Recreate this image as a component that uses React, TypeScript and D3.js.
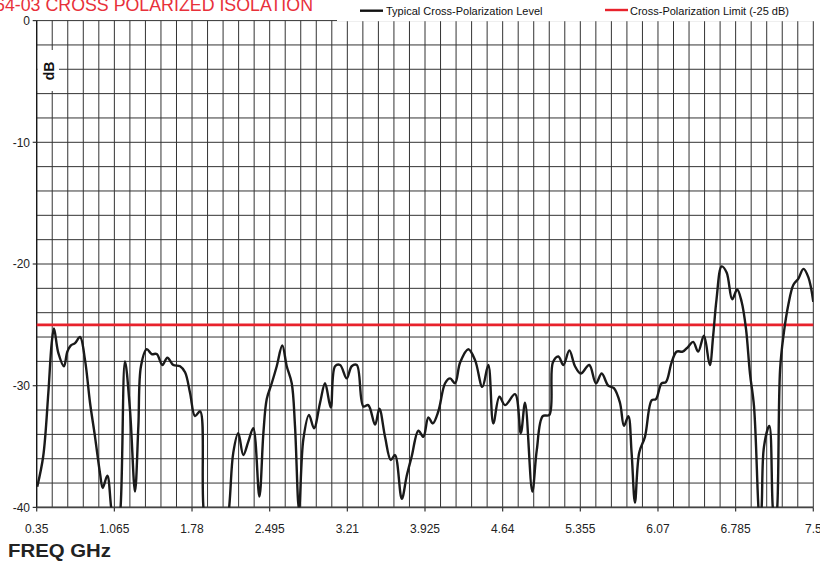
import React from "react";
import * as d3 from "d3";

const freqGHz: number[] = [
  0.355, 0.41, 0.457, 0.488, 0.509, 0.549, 0.601, 0.632, 0.663, 0.703, 0.749, 0.795, 0.841, 0.887, 0.933, 0.958,
  1.0, 1.034, 1.08, 1.123, 1.163, 1.209, 1.255, 1.286, 1.31, 1.363, 1.409, 1.455, 1.507, 1.553, 1.608, 1.67,
  1.716, 1.762, 1.808, 1.854, 1.884, 1.95, 2.05, 2.123, 2.16, 2.206, 2.252, 2.298, 2.344, 2.4, 2.437, 2.468,
  2.514, 2.56, 2.611, 2.652, 2.698, 2.728, 2.765, 2.805, 2.857, 2.903, 2.959, 3.005, 3.057, 3.097, 3.143, 3.204,
  3.25, 3.297, 3.357, 3.403, 3.465, 3.505, 3.557, 3.61, 3.649, 3.711, 3.757, 3.803, 3.864, 3.91, 3.956, 3.996,
  4.048, 4.11, 4.156, 4.202, 4.248, 4.324, 4.386, 4.453, 4.508, 4.554, 4.61, 4.662, 4.754, 4.807, 4.846, 4.913,
  4.954, 5.009, 5.07, 5.102, 5.153, 5.199, 5.254, 5.306, 5.359, 5.437, 5.499, 5.552, 5.612, 5.664, 5.72, 5.757,
  5.797, 5.827, 5.858, 5.897, 5.95, 6.012, 6.051, 6.103, 6.143, 6.195, 6.242, 6.297, 6.348, 6.394, 6.44, 6.493,
  6.547, 6.578, 6.609, 6.656, 6.702, 6.753, 6.799, 6.84, 6.88, 6.917, 6.954, 6.994, 7.01, 7.025, 7.046, 7.095,
  7.126, 7.148, 7.169, 7.194, 7.225, 7.271, 7.317, 7.363, 7.409, 7.455, 7.5,
];

const levelDb: number[] = [
  -38.3, -35.8, -30.6, -26.5, -25.3, -27.3, -28.4, -27.2, -26.7, -26.5, -26.0, -27.9, -31.4, -34.2, -37.2, -38.4,
  -37.4, -39.9, -44, -39.9, -28.0, -32.0, -38.7, -33.3, -28.4, -27.0, -27.4, -27.4, -28.3, -27.7, -28.3, -28.4,
  -28.9, -30.6, -32.5, -32.1, -39.9, -46, -46, -39.9, -35.5, -33.9, -35.7, -34.6, -33.5, -39.1, -33.9, -31.1,
  -29.8, -28.4, -26.7, -28.4, -29.8, -33.3, -40.2, -34.4, -32.4, -33.5, -31.4, -29.8, -31.8, -28.4, -28.3, -29.4,
  -28.4, -28.3, -31.7, -31.6, -33.2, -31.9, -34.2, -36.1, -35.7, -39.3, -37.4, -35.8, -33.7, -34.2, -32.6, -33.1,
  -32.1, -29.8, -29.4, -29.8, -28.1, -27.0, -27.9, -30.1, -28.3, -33.1, -30.9, -31.6, -30.7, -33.9, -31.4, -38.7,
  -35.3, -32.5, -32.4, -28.1, -27.6, -28.3, -27.1, -28.4, -29.0, -28.3, -29.8, -29.0, -30.0, -30.2, -31.4, -33.3,
  -32.5, -35.5, -39.6, -35.5, -34.2, -31.2, -31.1, -29.8, -29.7, -28.1, -27.2, -27.2, -26.8, -26.4, -27.2, -25.9,
  -28.3, -25.9, -22.9, -20.2, -20.7, -22.9, -22.1, -23.1, -25.3, -29.0, -31.7, -39.9, -42, -39.9, -35.0, -33.3,
  -39.9, -42, -39.9, -28.7, -25.9, -23.3, -21.7, -21.2, -20.4, -21.1, -23.1,
];

const xTickLabels: string[] = ["0.35", "1.065", "1.78", "2.495", "3.21", "3.925", "4.64", "5.355", "6.07", "6.785", "7.5"];
const yTickValues: number[] = [0, -10, -20, -30, -40];
const limitDb = -25;
const titleText = "64-03 CROSS POLARIZED ISOLATION";
const legendLabels: string[] = ["Typical Cross-Polarization Level", "Cross-Polarization Limit (-25 dB)"];

const W = 820;
const H = 562;
const X0 = 36.7;
const X1 = 813.3;
const YT = 20.6;
const YB = 507.4;

export default function App() {
  const x = d3.scaleLinear().domain([0.35, 7.5]).range([X0, X1]);
  const y = d3.scaleLinear().domain([0, -40]).range([YT, YB]);

  const vGrid = d3.range(51).map((i) => 0.35 + (i * 7.15) / 50);
  const hGrid = d3.range(21).map((i) => -i * 2);

  const pts = freqGHz.map((f, i) => [f, levelDb[i]] as [number, number]);
  const line = d3
    .line<[number, number]>()
    .x((d) => x(d[0]))
    .y((d) => y(d[1]))
    .curve(d3.curveCatmullRom.alpha(0.5));

  const font = "Arial, 'Liberation Sans', Helvetica, sans-serif";

  return (
    <svg
      width={W}
      height={H}
      style={{ position: "absolute", left: 0, top: 0, background: "#fff" }}
      fontFamily={font}
    >
      <defs>
        <clipPath id="plotClip">
          <rect x={X0} y={YT} width={X1 - X0} height={YB - YT} />
        </clipPath>
      </defs>
      <rect x={0} y={0} width={W} height={H} fill="#fff" />

      {/* grid */}
      {hGrid.map((v) => (
        <line key={"h" + v} x1={X0} x2={X1} y1={y(v)} y2={y(v)} stroke="#333" strokeWidth={1} />
      ))}
      {vGrid.map((f, i) => (
        <line key={"v" + i} x1={x(f)} x2={x(f)} y1={YT} y2={YB} stroke="#333" strokeWidth={1} />
      ))}

      {/* legend backdrop covering top border */}
      <rect x={337} y={0} width={W - 337} height={YT + 0.6} fill="#fff" />

      {/* dB label box */}
      <rect x={X0 + 0.8} y={50} width={59 - X0 - 0.8} height={41} fill="#fff" />
      <text
        transform="translate(53.5,71) rotate(-90)"
        textAnchor="middle"
        fontSize={14}
        fontWeight="bold"
        fill="#111"
      >
        dB
      </text>

      {/* axes */}
      <line x1={X0} x2={X0} y1={YT} y2={YB} stroke="#111" strokeWidth={1.2} />
      <line x1={X0} x2={X1} y1={YB} y2={YB} stroke="#444" strokeWidth={1.8} />
      {xTickLabels.map((t) => (
        <g key={"xt" + t}>
          <line x1={x(+t)} x2={x(+t)} y1={YB} y2={YB + 4} stroke="#333" strokeWidth={1.2} />
          <text x={x(+t)} y={533} textAnchor="middle" fontSize={12} fill="#222">
            {t}
          </text>
        </g>
      ))}
      {yTickValues.map((v) => (
        <g key={"yt" + v}>
          <line x1={X0 - 4} x2={X0} y1={y(v)} y2={y(v)} stroke="#333" strokeWidth={1.2} />
          <text x={30} y={y(v)} dy="0.36em" textAnchor="end" fontSize={12} fill="#222">
            {v}
          </text>
        </g>
      ))}

      {/* limit line */}
      <line x1={X0} x2={X1} y1={y(limitDb)} y2={y(limitDb)} stroke="#e8222c" strokeWidth={2.6} />

      {/* data curve */}
      <g clipPath="url(#plotClip)">
        <path d={line(pts) || ""} fill="none" stroke="#1a1a1a" strokeWidth={2.4} strokeLinejoin="round" />
      </g>

      {/* title */}
      <text x={-5} y={11} fontSize={18} fill="#e8303a" textLength={318} lengthAdjust="spacingAndGlyphs">
        {titleText}
      </text>

      {/* legend */}
      <line x1={360} x2={383} y1={10.7} y2={10.7} stroke="#111" strokeWidth={2.4} />
      <text x={386} y={15} fontSize={11} fill="#111">
        {legendLabels[0]}
      </text>
      <line x1={605} x2={628} y1={10} y2={10} stroke="#e8222c" strokeWidth={2.4} />
      <text x={630} y={15} fontSize={11} fill="#111">
        {legendLabels[1]}
      </text>

      {/* x axis title */}
      <text x={8} y={556.7} fontSize={19} fontWeight="bold" fill="#222" textLength={103} lengthAdjust="spacingAndGlyphs">
        FREQ GHz
      </text>
    </svg>
  );
}
